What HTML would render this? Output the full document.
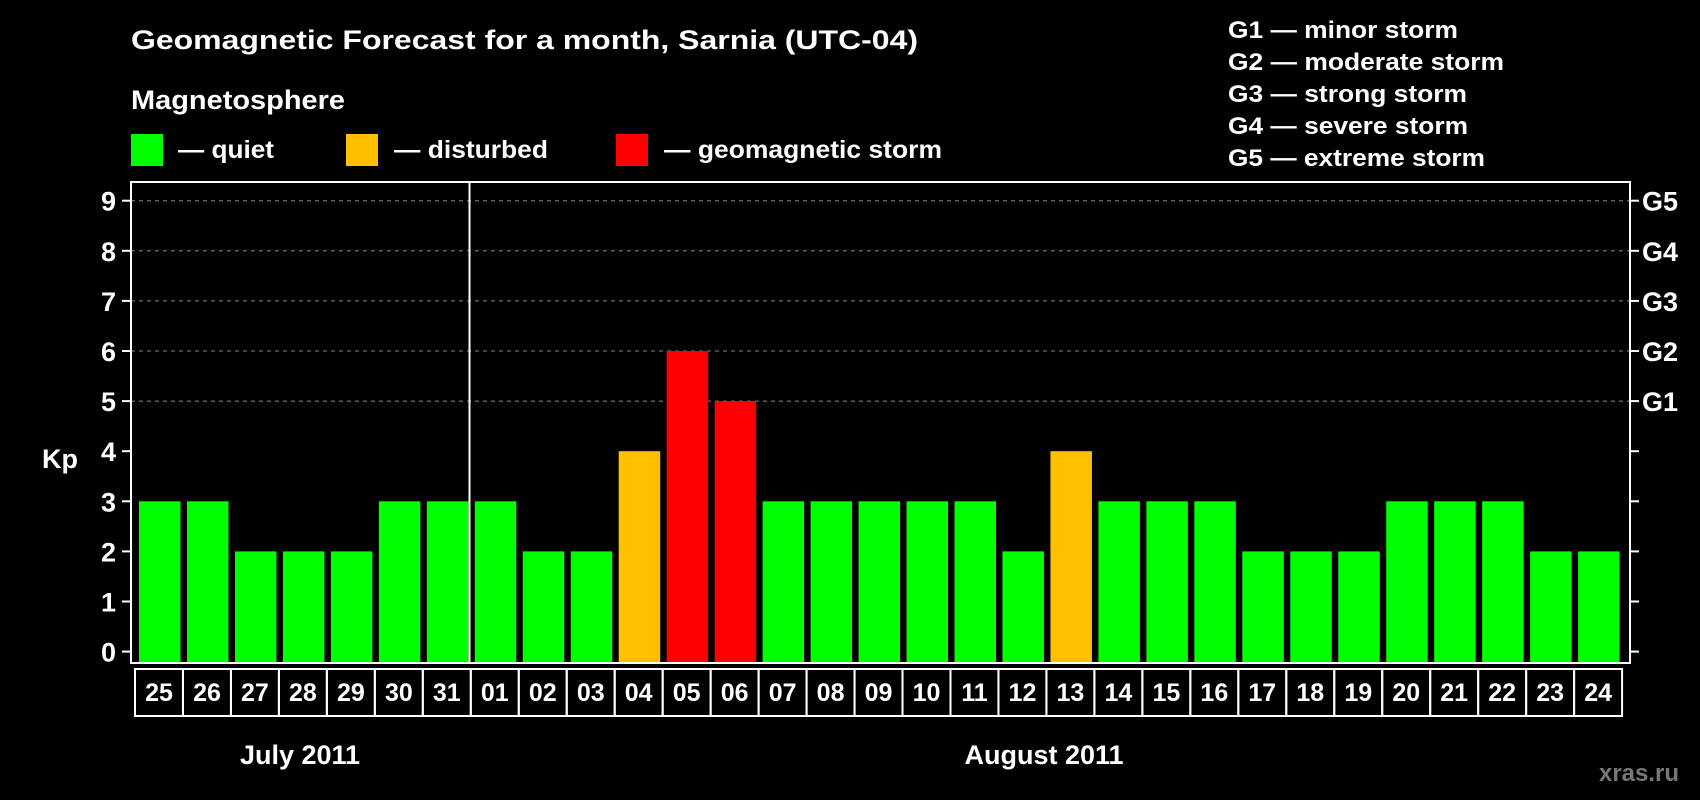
<!DOCTYPE html>
<html><head><meta charset="utf-8"><style>
html,body{margin:0;padding:0;background:#000;width:1700px;height:800px;overflow:hidden}
svg text{font-family:"Liberation Sans",sans-serif;font-weight:bold;fill:#fff}
</style></head><body>
<svg id="c" width="1700" height="800">
<text x="131" y="49" font-size="27" textLength="787" lengthAdjust="spacingAndGlyphs">Geomagnetic Forecast for a month, Sarnia (UTC-04)</text>
<text x="131" y="109" font-size="27" textLength="214" lengthAdjust="spacingAndGlyphs">Magnetosphere</text>
<rect x="131" y="134" width="32" height="32" fill="#00ff00"/>
<text x="178" y="158" font-size="25" textLength="96" lengthAdjust="spacingAndGlyphs">— quiet</text>
<rect x="346" y="134" width="32" height="32" fill="#ffc000"/>
<text x="394" y="158" font-size="25" textLength="154" lengthAdjust="spacingAndGlyphs">— disturbed</text>
<rect x="616" y="134" width="32" height="32" fill="#ff0000"/>
<text x="664" y="158" font-size="25" textLength="278" lengthAdjust="spacingAndGlyphs">— geomagnetic storm</text>
<g font-size="24">
<text x="1228" y="38" textLength="230" lengthAdjust="spacingAndGlyphs">G1 — minor storm</text>
<text x="1228" y="70" textLength="276" lengthAdjust="spacingAndGlyphs">G2 — moderate storm</text>
<text x="1228" y="102" textLength="239" lengthAdjust="spacingAndGlyphs">G3 — strong storm</text>
<text x="1228" y="134" textLength="240" lengthAdjust="spacingAndGlyphs">G4 — severe storm</text>
<text x="1228" y="166" textLength="257" lengthAdjust="spacingAndGlyphs">G5 — extreme storm</text>
</g>
<text x="42" y="468" font-size="27">Kp</text>
<text x="300" y="764" font-size="27" text-anchor="middle">July 2011</text>
<text x="1044" y="764" font-size="27" text-anchor="middle">August 2011</text>
<text x="1639" y="781" font-size="24" text-anchor="middle" style="fill:#777">xras.ru</text>
<g id="plot"></g>
</svg>
<script>
const days=["25","26","27","28","29","30","31","01","02","03","04","05","06","07","08","09","10","11","12","13","14","15","16","17","18","19","20","21","22","23","24"];
const kp=[3,3,2,2,2,3,3,3,2,2,4,6,5,3,3,3,3,3,2,4,3,3,3,2,2,2,3,3,3,2,2];
const yTicks=[0,1,2,3,4,5,6,7,8,9];
const gLabels=["G1","G2","G3","G4","G5"];
const gLevels=[5,6,7,8,9];
const NS="http://www.w3.org/2000/svg";
const plot=document.getElementById('plot');
const L=131,R=1630,T=182,B=663;
const y=v=>651.6-v*50.1;
const cellX=i=>135+i*47.97;
function mk(t,a){const e=document.createElementNS(NS,t);for(const k in a)e.setAttribute(k,a[k]);plot.appendChild(e);return e;}
yTicks.forEach(v=>{
  if(v>=5){const g=mk('line',{x1:L,x2:R,y1:y(v),y2:y(v),stroke:'#888','stroke-dasharray':'4,4','stroke-width':1});
  
  }
  const t1=mk('line',{x1:L-9,x2:L,y1:y(v),y2:y(v),stroke:'#fff','stroke-width':2});
  
  
  const t2=mk('line',{x1:R,x2:R+9,y1:y(v),y2:y(v),stroke:'#fff','stroke-width':2});
  
  
  const tl=mk('text',{x:116,y:y(v)+10,'font-size':27,'text-anchor':'end'});tl.textContent=v;
  
  
});
gLabels.forEach((g,i)=>{
  const t=mk('text',{x:1642,y:y(gLevels[i])+10,'font-size':27});t.textContent=g;
  
  
});
kp.forEach((v,i)=>{
  const col=v>=5?'#ff0000':(v>=4?'#ffc000':'#00ff00');
  const b=mk('rect',{x:cellX(i)+4,y:y(v),width:41.5,height:B-1-y(v),fill:col});
  
  
  const c=mk('rect',{x:cellX(i),y:669,width:47.97,height:47,fill:'none',stroke:'#fff','stroke-width':2});
  
  
  const t=mk('text',{x:cellX(i)+24,y:701,'font-size':25,'text-anchor':'middle'});t.textContent=days[i];
  
  
});
const sep=mk('line',{x1:469.5,x2:469.5,y1:T,y2:B,stroke:'#fff','stroke-width':2});


const fr=mk('rect',{x:L,y:T,width:R-L,height:B-T,fill:'none',stroke:'#fff','stroke-width':2});


</script>
</body></html>
